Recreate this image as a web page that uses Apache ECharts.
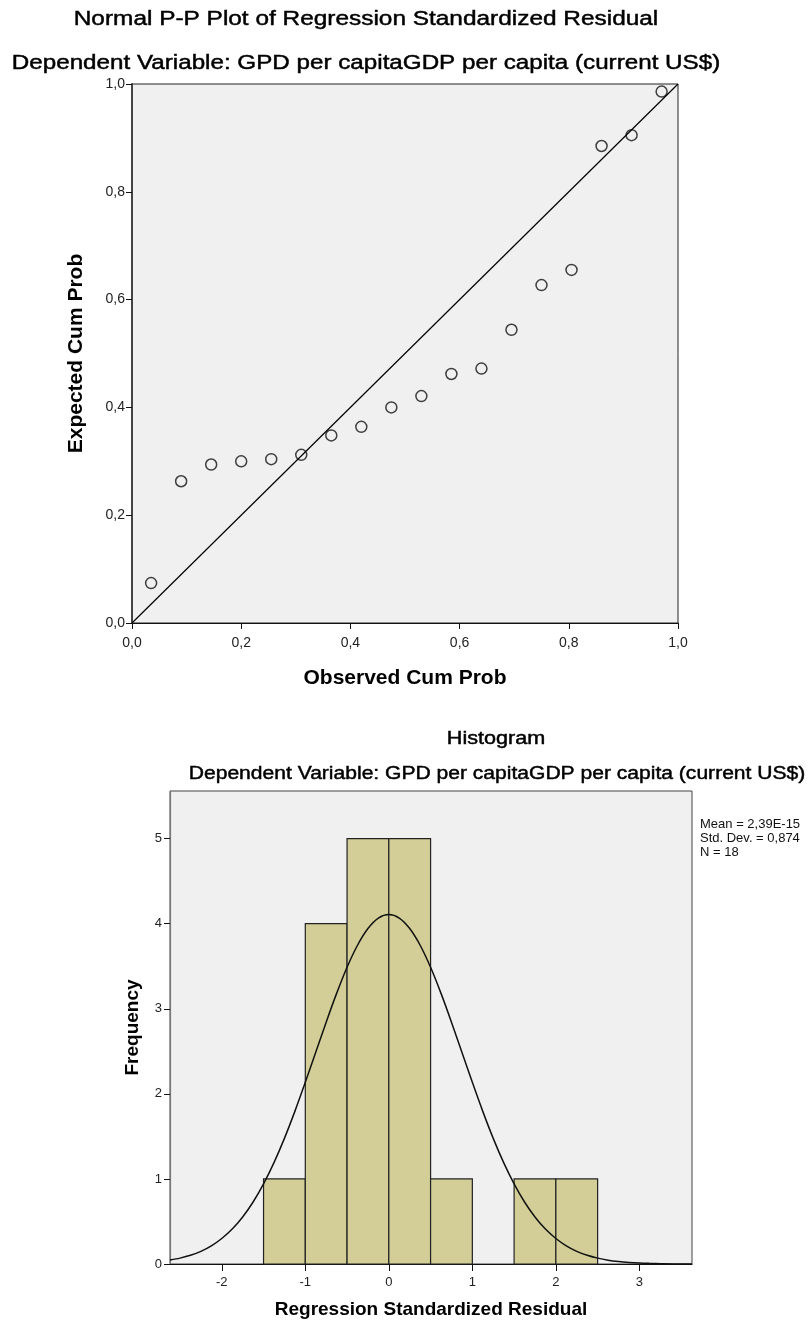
<!DOCTYPE html>
<html>
<head>
<meta charset="utf-8">
<script src="https://cdn.jsdelivr.net/npm/echarts@6/dist/echarts.min.js"></script>
<style>
html,body{margin:0;padding:0;background:#fff;}
#chart{width:808px;height:1322px;}
</style>
</head>
<body>
<div id="chart"></div>
<script>
// ---- P-P plot data ----
const ppObserved = [0.035, 0.09, 0.145, 0.20, 0.255, 0.31, 0.365, 0.42, 0.475, 0.53, 0.585, 0.64, 0.695, 0.75, 0.805, 0.86, 0.915, 0.97];
const ppExpected = [0.074, 0.263, 0.294, 0.300, 0.304, 0.312, 0.348, 0.364, 0.400, 0.421, 0.462, 0.472, 0.544, 0.627, 0.655, 0.885, 0.905, 0.986];
const ppRefLine = [[0, 0], [1, 1]];

// ---- Histogram data ----
const binStarts = [-1.5, -1.0, -0.5, 0.0, 0.5, 1.0, 1.5, 2.0];
const binEnds   = [-1.0, -0.5, 0.0, 0.5, 1.0, 1.5, 2.0, 2.5];
const binCounts = [1, 4, 5, 5, 1, 0, 1, 1];
const curveX = [-2.62, -2.5, -2.375, -2.25, -2.125, -2.0, -1.875, -1.75, -1.625, -1.5, -1.375, -1.25, -1.125, -1.0, -0.875, -0.75, -0.625, -0.5, -0.375, -0.25, -0.125, 0.0,
                0.125, 0.25, 0.375, 0.5, 0.625, 0.75, 0.875, 1.0, 1.125, 1.25, 1.375, 1.5, 1.625, 1.75, 1.875, 2.0, 2.125, 2.25, 2.375, 2.5, 2.625, 2.75, 2.875, 3.0, 3.125, 3.25, 3.5, 3.63];
const curveY = [0.046, 0.069, 0.102, 0.149, 0.214, 0.300, 0.411, 0.553, 0.729, 0.942, 1.192, 1.477, 1.794, 2.135, 2.489, 2.843, 3.181, 3.488, 3.747, 3.943, 4.066, 4.108,
                4.066, 3.943, 3.747, 3.488, 3.181, 2.843, 2.489, 2.135, 1.794, 1.477, 1.192, 0.942, 0.729, 0.553, 0.411, 0.300, 0.214, 0.149, 0.102, 0.069, 0.045, 0.029, 0.018, 0.011, 0.007, 0.004, 0.001, 0.001];
const histXTicks = [-2, -1, 0, 1, 2, 3];
const histYTicks = [0, 1, 2, 3, 4, 5];
const statsLines = ['Mean = 2,39E-15', 'Std. Dev. = 0,874', 'N = 18'];
const ppTitle = 'Normal P-P Plot of Regression Standardized Residual';
const histTitle = 'Histogram';
const depVarTitle = 'Dependent Variable: GPD per capitaGDP per capita (current US$)';

const FONT = '"Liberation Sans", Arial, sans-serif';
const comma = v => v.toFixed(1).replace('.', ',');

const chart = echarts.init(document.getElementById('chart'), null, {renderer: 'canvas'});

const axisCommon = {
  axisLine: {show: true, onZero: false, lineStyle: {color: '#111', width: 1.2}},
  axisTick: {show: true, inside: false, length: 6, lineStyle: {color: '#111'}},
  splitLine: {show: false},
  axisLabel: {color: '#222', fontFamily: FONT, fontSize: 14, margin: 7},
  nameLocation: 'middle',
  nameTextStyle: {color: '#000', fontFamily: FONT, fontSize: 21, fontWeight: 'bold'}
};

function titleText(text, x, y, size, sx) {
  return {
    type: 'text', x: x, y: y, scaleX: sx, silent: true,
    style: {text: text, fontFamily: FONT, fontSize: size, fontWeight: 'normal', fill: '#000',
            stroke: '#000', lineWidth: 0.45,
            textAlign: 'center', textVerticalAlign: 'middle'}
  };
}

const option = {
  animation: false,
  backgroundColor: '#fff',
  grid: [
    {left: 132, top: 84, width: 546, height: 539, show: true, backgroundColor: '#f0f0f0', borderColor: '#222', borderWidth: 1},
    {left: 170, top: 791, width: 522, height: 473, show: true, backgroundColor: '#f0f0f0', borderColor: '#444', borderWidth: 1}
  ],
  xAxis: [
    Object.assign({}, axisCommon, {
      type: 'value', gridIndex: 0, min: 0, max: 1, interval: 0.2,
      name: 'Observed Cum Prob', nameGap: 45,
      axisLabel: Object.assign({}, axisCommon.axisLabel, {margin: 13, formatter: comma})
    }),
    Object.assign({}, axisCommon, {
      type: 'value', gridIndex: 1, min: -2.62, max: 3.63,
      name: 'Regression Standardized Residual', nameGap: 36,
      nameTextStyle: Object.assign({}, axisCommon.nameTextStyle, {fontSize: 19}),
      axisTick: Object.assign({}, axisCommon.axisTick, {length: 7, customValues: histXTicks}),
      axisLabel: Object.assign({}, axisCommon.axisLabel, {fontSize: 13, margin: 12, customValues: histXTicks, formatter: v => String(v)})
    })
  ],
  yAxis: [
    Object.assign({}, axisCommon, {
      type: 'value', gridIndex: 0, min: 0, max: 1, interval: 0.2,
      name: 'Expected Cum Prob', nameGap: 45,
      axisLine: {show: true, onZero: false, lineStyle: {color: '#444', width: 2}},
      axisLabel: Object.assign({}, axisCommon.axisLabel, {formatter: comma})
    }),
    Object.assign({}, axisCommon, {
      type: 'value', gridIndex: 1, min: 0, max: 5.56,
      name: 'Frequency', nameGap: 28,
      axisLine: {show: true, onZero: false, lineStyle: {color: '#777', width: 1.2}},
      nameTextStyle: Object.assign({}, axisCommon.nameTextStyle, {fontSize: 19}),
      axisTick: Object.assign({}, axisCommon.axisTick, {customValues: histYTicks}),
      axisLabel: Object.assign({}, axisCommon.axisLabel, {fontSize: 13, margin: 8, customValues: histYTicks, formatter: v => String(v)})
    })
  ],
  series: [
    {
      type: 'line', xAxisIndex: 0, yAxisIndex: 0, data: ppRefLine, symbol: 'none', silent: true,
      lineStyle: {color: '#000', width: 1.2}
    },
    {
      type: 'scatter', xAxisIndex: 0, yAxisIndex: 0,
      data: ppObserved.map((x, i) => [x, ppExpected[i]]),
      symbol: 'circle', symbolSize: 11,
      itemStyle: {color: 'rgba(0,0,0,0)', borderColor: '#111', borderWidth: 1.5}
    },
    {
      type: 'custom', xAxisIndex: 1, yAxisIndex: 1,
      data: binStarts.map((s, i) => [s, binEnds[i], binCounts[i]]),
      renderItem: function (params, api) {
        const c = api.value(2);
        if (!c) return null;
        const p0 = api.coord([api.value(0), c]);
        const p1 = api.coord([api.value(1), 0]);
        return {
          type: 'rect',
          shape: {x: p0[0], y: p0[1], width: p1[0] - p0[0], height: p1[1] - p0[1]},
          style: {fill: '#d3ce97', stroke: '#222', lineWidth: 1.2}
        };
      }
    },
    {
      type: 'line', xAxisIndex: 1, yAxisIndex: 1, smooth: 0.3, symbol: 'none', silent: true,
      data: curveX.map((x, i) => [x, curveY[i]]),
      lineStyle: {color: '#111', width: 1.5}, z: 5
    }
  ],
  graphic: [
    titleText(ppTitle, 366, 19, 20, 1.22),
    titleText(depVarTitle, 366, 63, 20, 1.21),
    titleText(histTitle, 496, 739, 18, 1.2),
    titleText(depVarTitle, 497, 774, 18, 1.17)
  ].concat(statsLines.map((t, i) => ({
    type: 'text', left: 700, top: 818 + i * 14,
    style: {text: t, fontFamily: FONT, fontSize: 13, fill: '#111'}
  })))
};

chart.setOption(option);
</script>
</body>
</html>
